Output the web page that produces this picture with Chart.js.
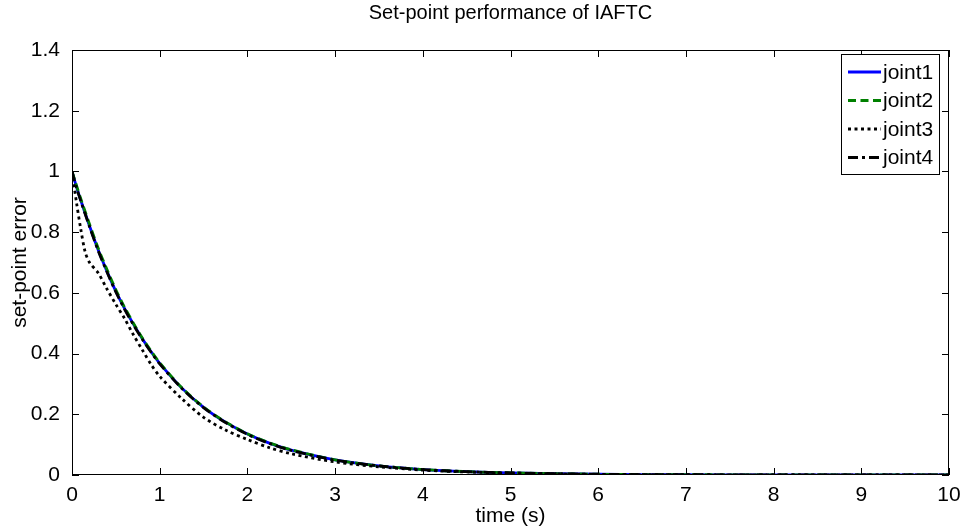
<!DOCTYPE html>
<html>
<head>
<meta charset="utf-8">
<script src="https://cdn.jsdelivr.net/npm/chart.js@4"></script>
<style>
  body { margin: 0; background: #fff; }
  #wrap { width: 962px; height: 527px; }
</style>
</head>
<body>
<div id="wrap"><canvas id="chart" width="962" height="527"></canvas></div>
<script>
// time samples (s) and values
const tMain = [0, 0.05, 0.1, 0.2, 0.3, 0.4, 0.5, 0.6, 0.7, 0.8, 0.9, 1, 1.25, 1.5, 1.75, 2, 2.25, 2.5, 3, 3.5, 4, 4.5, 5, 6, 7, 8, 9, 10]
const joint1 = [1.0, 0.95, 0.905, 0.82, 0.74, 0.67, 0.605, 0.548, 0.497, 0.45, 0.407, 0.368, 0.287, 0.223, 0.174, 0.135, 0.105, 0.082, 0.05, 0.03, 0.018, 0.011, 0.007, 0.0025, 0.001, 0.0004, 0.0002, 0.0001]
const joint2 = [1.0, 0.955, 0.91, 0.826, 0.746, 0.676, 0.61, 0.552, 0.5, 0.452, 0.409, 0.37, 0.288, 0.224, 0.175, 0.136, 0.106, 0.083, 0.05, 0.03, 0.018, 0.011, 0.007, 0.0025, 0.001, 0.0004, 0.0002, 0.0001]
const joint4 = [1.0, 0.948, 0.903, 0.818, 0.738, 0.668, 0.603, 0.546, 0.495, 0.448, 0.405, 0.366, 0.286, 0.222, 0.173, 0.134, 0.104, 0.081, 0.049, 0.03, 0.018, 0.011, 0.007, 0.0025, 0.001, 0.0004, 0.0002, 0.0001]
const t3 = [0, 0.05, 0.1, 0.15, 0.2, 0.3, 0.4, 0.5, 0.6, 0.7, 0.8, 0.9, 1, 1.25, 1.5, 1.75, 2, 2.25, 2.5, 3, 3.5, 4, 4.5, 5, 6, 7, 8, 9, 10]
const joint3 = [1.0, 0.9, 0.81, 0.735, 0.7, 0.665, 0.612, 0.562, 0.515, 0.462, 0.413, 0.365, 0.325, 0.252, 0.19, 0.148, 0.117, 0.09, 0.07, 0.043, 0.027, 0.016, 0.01, 0.006, 0.002, 0.0008, 0.0003, 0.0001, 0.0001]

const xTicks = [0, 1, 2, 3, 4, 5, 6, 7, 8, 9, 10]
const yTicks = [0, 0.2, 0.4, 0.6, 0.8, 1, 1.2, 1.4]

const FONT = "'Liberation Sans', Arial, sans-serif"
const FS = 21

function toPoints(xs, ys) {
  return xs.map((x, i) => ({ x: x, y: ys[i] }))
}

// frame, inward ticks, title and legend in matlab style
const matlabBox = {
  id: 'matlabBox',
  afterDraw(chart) {
    const ctx = chart.ctx
    const a = chart.chartArea
    const xs = chart.scales.x
    const ys = chart.scales.y
    ctx.save()
    ctx.strokeStyle = '#000'
    ctx.lineWidth = 1
    ctx.strokeRect(a.left + 0.5, a.top + 0.5, a.right - a.left - 1, a.bottom - a.top - 1)

    // ticks on all four sides
    ctx.beginPath()
    const len = 7
    xTicks.forEach(v => {
      const px = Math.round(xs.getPixelForValue(v)) + 0.5
      ctx.moveTo(px, a.bottom); ctx.lineTo(px, a.bottom - len)
      ctx.moveTo(px, a.top); ctx.lineTo(px, a.top + len)
    })
    yTicks.forEach(v => {
      const py = Math.round(ys.getPixelForValue(v)) + 0.5
      ctx.moveTo(a.left, py); ctx.lineTo(a.left + len, py)
      ctx.moveTo(a.right, py); ctx.lineTo(a.right - len, py)
    })
    ctx.stroke()

    // title centred over the plot area
    ctx.fillStyle = '#000'
    ctx.font = '20px ' + FONT
    ctx.textAlign = 'center'
    ctx.textBaseline = 'middle'
    ctx.fillText('Set-point performance of IAFTC', (a.left + a.right) / 2, 13)

    // legend box
    const bx = 841, by = 54, bw = 98, bh = 120
    ctx.fillStyle = '#fff'
    ctx.fillRect(bx, by, bw, bh)
    ctx.strokeRect(bx + 0.5, by + 0.5, bw, bh)
    ctx.font = FS + 'px ' + FONT
    chart.data.datasets.forEach((ds, i) => {
      const y = by + 18 + i * 28.5
      ctx.beginPath()
      ctx.strokeStyle = ds.borderColor
      ctx.lineWidth = ds.borderWidth
      ctx.setLineDash(ds.borderDash || [])
      ctx.moveTo(bx + 7, y)
      ctx.lineTo(bx + 40, y)
      ctx.stroke()
      ctx.setLineDash([])
      ctx.fillStyle = '#000'
      ctx.textAlign = 'left'
      ctx.fillText(ds.label, bx + 42, y + 1)
    })
    ctx.restore()
  }
}

const chart = new Chart(document.getElementById('chart'), {
  type: 'line',
  data: {
    datasets: [
      { label: 'joint1', data: toPoints(tMain, joint1), borderColor: '#0000ff', borderWidth: 2.8, order: 4 },
      { label: 'joint2', data: toPoints(tMain, joint2), borderColor: '#008000', borderWidth: 2.8, borderDash: [8, 4.5], order: 3 },
      { label: 'joint3', data: toPoints(t3, joint3), borderColor: '#000000', borderWidth: 2.8, borderDash: [3, 3.5], order: 2 },
      { label: 'joint4', data: toPoints(tMain, joint4), borderColor: '#000000', borderWidth: 2.8, borderDash: [10, 4, 3, 4], order: 1 }
    ]
  },
  options: {
    responsive: false,
    animation: false,
    layout: { padding: { top: 50, right: 13, left: 0, bottom: 0 } },
    elements: { point: { radius: 0 }, line: { tension: 0.3, fill: false } },
    plugins: {
      legend: { display: false },
      tooltip: { enabled: false },
      title: { display: false }
    },
    scales: {
      x: {
        type: 'linear',
        min: 0, max: 10,
        afterFit: s => { s.height = 52 },
        afterBuildTicks: s => { s.ticks = xTicks.map(v => ({ value: v })) },
        grid: { display: false },
        border: { display: false },
        ticks: { color: '#000', font: { family: FONT, size: FS }, padding: 0, maxRotation: 0 },
        title: { display: true, text: 'time (s)', color: '#000', font: { family: FONT, size: FS }, padding: { top: 0, bottom: -2 } }
      },
      y: {
        type: 'linear',
        min: 0, max: 1.4,
        afterFit: s => { s.width = 72 },
        afterBuildTicks: s => { s.ticks = yTicks.map(v => ({ value: v })) },
        grid: { display: false },
        border: { display: false },
        ticks: {
          color: '#000', font: { family: FONT, size: FS }, padding: 4,
          callback: v => String(Math.round(v * 10) / 10)
        },
        title: { display: true, text: 'set-point error', color: '#000', font: { family: FONT, size: FS }, padding: { top: 8, bottom: 0 } }
      }
    }
  },
  plugins: [matlabBox]
})
</script>
</body>
</html>
